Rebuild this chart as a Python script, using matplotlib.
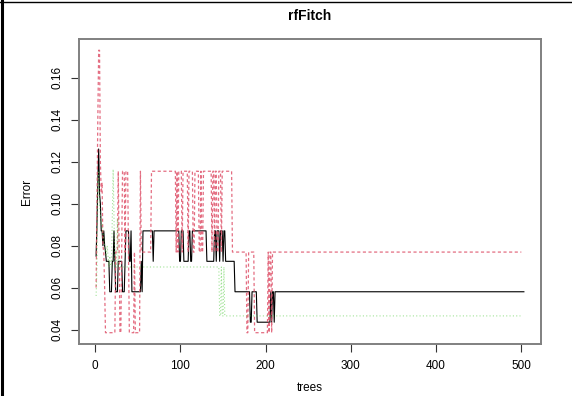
import matplotlib
matplotlib.use("Agg")
import matplotlib.pyplot as plt
from matplotlib.lines import Line2D
import numpy as np

# error rates per number of trees, stored as (value, run length) pairs
oob_vals = [0.075, 0.09, 0.11, 0.126, 0.105, 0.10, 0.087, 0.08, 0.087, 0.08, 0.077,
            0.0725, 0.058, 0.0725, 0.087, 0.0725, 0.058, 0.0725, 0.058, 0.0725, 0.087,
            0.0725, 0.087, 0.058, 0.0725, 0.058, 0.087, 0.0725, 0.087, 0.0725, 0.087,
            0.0725, 0.087, 0.0725, 0.087, 0.0725, 0.087, 0.0725, 0.087, 0.0725, 0.087,
            0.0725, 0.087, 0.0725, 0.058, 0.0435, 0.058, 0.0435, 0.058, 0.0435, 0.058,
            0.0435, 0.058]
oob_runs = [1, 1, 1, 1, 1, 1, 2, 1, 1, 1, 1,
            4, 3, 2, 1, 1, 3, 5, 3, 1, 4,
            2, 1, 11, 1, 1, 12, 1, 30, 2, 3,
            6, 2, 2, 17, 9, 2, 1, 3, 1, 3,
            1, 2, 11, 18, 2, 6, 16, 1, 1, 2,
            1, 293]

cls1_vals = [0.06, 0.10, 0.14, 0.173, 0.12, 0.105, 0.11, 0.08, 0.0769, 0.06, 0.0385,
             0.0769, 0.1154, 0.0769, 0.0385, 0.0769, 0.1154, 0.0769, 0.1154, 0.0769,
             0.0385, 0.0769, 0.0385, 0.1154, 0.0769, 0.1154, 0.0769, 0.1154, 0.0769,
             0.1154, 0.0769, 0.1154, 0.0769, 0.1154, 0.0769, 0.1154, 0.0769, 0.1154,
             0.0769, 0.1154, 0.0769, 0.1154, 0.0769, 0.1154, 0.0769, 0.1154, 0.0769,
             0.1154, 0.0769, 0.0385, 0.0769, 0.0385, 0.0769, 0.0385, 0.0769, 0.0385,
             0.0769]
cls1_runs = [1, 1, 1, 2, 1, 1, 1, 1, 1, 1, 12,
             3, 1, 1, 2, 1, 3, 1, 3, 1,
             6, 1, 6, 1, 12, 29, 1, 1, 1,
             4, 1, 6, 1, 5, 2, 5, 2, 1,
             2, 10, 1, 2, 1, 2, 2, 3, 1,
             12, 17, 2, 7, 16, 1, 1, 2, 1,
             293]

cls2_vals = [0.056, 0.07, 0.11, 0.115, 0.10, 0.095, 0.09, 0.086, 0.083, 0.08, 0.078,
             0.075, 0.08, 0.075, 0.0698, 0.075, 0.0698, 0.093, 0.1163, 0.093, 0.0698,
             0.093, 0.0698, 0.0465, 0.0698, 0.0465, 0.0698, 0.0465]
cls2_runs = [1, 1, 1, 1, 1, 1, 2, 1, 1, 1, 1,
             1, 1, 1, 1, 1, 2, 1, 1, 1, 3,
             1, 119, 2, 1, 2, 1, 348]

oob = np.repeat(oob_vals, oob_runs)
cls1 = np.repeat(cls1_vals, cls1_runs)
cls2 = np.repeat(cls2_vals, cls2_runs)
trees = np.arange(1, len(oob) + 1)

fig = plt.figure(figsize=(5.72, 3.96), dpi=100)
ax = fig.add_axes([79 / 572, 52 / 396, 462 / 572, 305 / 396])

ax.plot(trees, oob, color="black", lw=0.8, zorder=3)
ax.plot(np.arange(1, len(cls1) + 1), cls1, color="#DF536B", lw=0.9,
        dashes=(2.5, 2.0), alpha=0.85, zorder=4)
ax.plot(np.arange(1, len(cls2) + 1), cls2, color="#61D04F", lw=0.8,
        dashes=(1, 2), alpha=0.6, zorder=5)

lo = min(oob.min(), cls1.min(), cls2.min())
hi = max(oob.max(), cls1.max(), cls2.max())
pad = 0.04 * (hi - lo)
ax.set_ylim(lo - pad, hi + pad)
xpad = 0.04 * (trees[-1] - 1)
ax.set_xlim(1 - xpad, trees[-1] + xpad)

font = ["Liberation Sans", "DejaVu Sans"]
ax.set_xticks([0, 100, 200, 300, 400, 500])
ax.set_yticks([0.04, 0.06, 0.08, 0.10, 0.12, 0.14, 0.16])
ax.set_yticklabels(["0.04", "0.06", "0.08", "0.10", "0.12", "0.14", "0.16"],
                   rotation=90, va="center")
ax.tick_params(direction="out", length=5.5, width=0.8, color="#333333",
               labelsize=8.5, pad=6)
for lab in ax.get_xticklabels() + ax.get_yticklabels():
    lab.set_family(font)
for s in ax.spines.values():
    s.set_color("#808080")
    s.set_linewidth(1.4)

ax.set_title("rfFitch", fontsize=10, fontweight="bold", family=font, pad=14)
ax.set_xlabel("trees", fontsize=8.5, family=font, labelpad=7)
ax.set_ylabel("Error", fontsize=8.5, family=font, labelpad=13)

# frame fragments at the image border
fig.add_artist(Line2D([0.003, 0.003], [0, 1], color="black", lw=2.2,
                      transform=fig.transFigure))
fig.add_artist(Line2D([0, 1], [0.996, 0.996], color="black", lw=1.0,
                      transform=fig.transFigure))

fig.savefig("out.png", dpi=100)
plt.close(fig)
